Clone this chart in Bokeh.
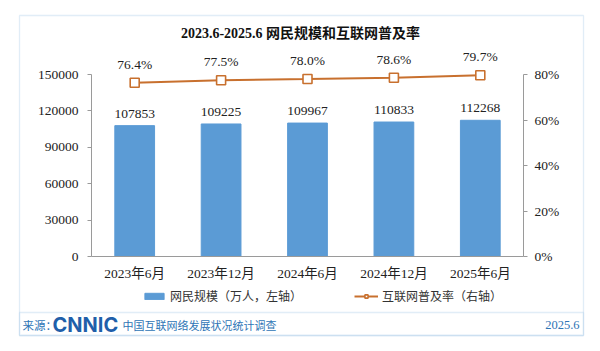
import numpy as np
from bokeh.plotting import figure
from bokeh.models import (Range1d, LinearAxis, FixedTicker, PrintfTickFormatter,
                          BasicTickFormatter, Label, BoxAnnotation, Legend,
                          LegendItem, ColumnDataSource)
from bokeh.core.properties import value
from bokeh.embed import file_html
from bokeh.resources import INLINE

categories = ["2023年6月", "2023年12月", "2024年6月", "2024年12月", "2025年6月"]
users = [107853, 109225, 109967, 110833, 112268]
rate = [76.4, 77.5, 78.0, 78.6, 79.7]
left_ticks = [0, 30000, 60000, 90000, 120000, 150000]
right_ticks = [0, 20, 40, 60, 80]

title_text = "2023.6-2025.6 网民规模和互联网普及率"
legend_bar = "网民规模（万人，左轴）"
legend_line = "互联网普及率（右轴）"
source_label = "来源："
logo_text = "CNNIC"
survey_text = "中国互联网络发展状况统计调查"
date_text = "2025.6"

SERIF = "'Liberation Serif', 'Times New Roman', 'Noto Sans CJK SC', serif"
CJK = "'Noto Sans CJK SC', sans-serif"
BLUE = "#5B9BD5"
ORANGE = "#C8702E"
AXIS = "#9A9A9A"
FOOT = "#2E75B6"
EDGE = "#9DC3E6"
TXT = "#222222"

W, H = 600, 351
# plot area in canvas pixels (top-left origin)
PL, PR, P0, PTOP = 91, 523, 256, 74   # left, right, y of zero, y of top tick

n = len(categories)
xpos = np.arange(n) + 0.5
x_px = (PR - PL) / n
y_px = (P0 - PTOP) / left_ticks[-1]
r_px = (P0 - PTOP) / right_ticks[-1]

src = ColumnDataSource(dict(
    x=xpos, users=users, rate=rate,
    ulab=[str(v) for v in users],
    rlab=[f"{v:.1f}%" for v in rate],
))

p = figure(width=W, height=H,
           x_range=Range1d(-PL / x_px, n + (W - PR) / x_px),
           y_range=Range1d(-(H - P0) / y_px, P0 / y_px),
           x_axis_location=None, y_axis_location=None,
           output_backend="svg", toolbar_location=None, min_border=0)
p.extra_y_ranges = {"pct": Range1d(-(H - P0) / r_px, P0 / r_px)}
p.outline_line_color = None
p.xgrid.visible = False
p.ygrid.visible = False
p.background_fill_color = "white"
p.border_fill_color = "white"

bars = p.vbar(x="x", top="users", width=0.46, source=src, color=BLUE)
line = p.line(x="x", y="rate", source=src, y_range_name="pct",
              line_color=ORANGE, line_width=2)
marks = p.scatter(x="x", y="rate", source=src, y_range_name="pct",
                  marker="square", size=9, line_color=ORANGE, line_width=1.6,
                  fill_color="white")

p.text(x="x", y="users", text="ulab", source=src, text_align="center",
       text_baseline="bottom", y_offset=-8, text_font=value(SERIF),
       text_font_size="13.5px", text_color=TXT)
p.text(x="x", y="rate", text="rlab", source=src, y_range_name="pct",
       text_align="center", text_baseline="bottom", y_offset=-11,
       text_font=value(SERIF), text_font_size="13.5px", text_color=TXT)


def style_axis(ax, standoff):
    ax.axis_line_color = AXIS
    ax.major_tick_line_color = AXIS
    ax.major_tick_out = 4
    ax.major_tick_in = 0
    ax.minor_tick_line_color = None
    ax.major_label_text_font = SERIF
    ax.major_label_text_font_size = "13.5px"
    ax.major_label_text_color = TXT
    ax.major_label_standoff = standoff


ya = LinearAxis(ticker=FixedTicker(ticks=left_ticks),
                formatter=BasicTickFormatter(use_scientific=False),
                bounds=(left_ticks[0], left_ticks[-1]), fixed_location=0)
style_axis(ya, 9)
p.add_layout(ya, "left")

ra = LinearAxis(y_range_name="pct", ticker=FixedTicker(ticks=right_ticks),
                formatter=PrintfTickFormatter(format="%d%%"),
                bounds=(right_ticks[0], right_ticks[-1]), fixed_location=n)
style_axis(ra, 7)
p.add_layout(ra, "right")

xa = LinearAxis(ticker=FixedTicker(ticks=list(xpos)),
                major_label_overrides={float(v): c for v, c in zip(xpos, categories)},
                bounds=(0, n), fixed_location=0)
style_axis(xa, 5)
xa.major_tick_line_color = None
p.add_layout(xa, "below")


def lab(x, y, text, **kw):
    p.add_layout(Label(x=x, y=H - y, x_units="screen", y_units="screen",
                       text=text, text_baseline="middle", **kw))


lab(300, 33, title_text, text_align="center", text_font=SERIF,
    text_font_size="14px", text_font_style="bold", text_color="#111111")

legend = Legend(items=[LegendItem(label=legend_bar, renderers=[bars]),
                       LegendItem(label=legend_line, renderers=[line, marks])],
                location=(142, H - 304), orientation="horizontal",
                glyph_width=24, glyph_height=8, label_standoff=4, spacing=52,
                padding=0, margin=0, border_line_color=None,
                background_fill_alpha=0, label_text_font=CJK,
                label_text_font_size="12px", label_text_color="#333333")
p.add_layout(legend, "center")

for top in (15, 312):
    p.add_layout(BoxAnnotation(left=19, right=583, top=H - top, bottom=H - 335,
                               left_units="screen", right_units="screen",
                               top_units="screen", bottom_units="screen",
                               fill_color=None, line_color=EDGE, line_width=1.3))

lab(22, 324, source_label, text_font=CJK, text_font_size="11.5px", text_color=FOOT)
lab(52, 324, logo_text, text_font="Inter", text_font_size="20px",
    text_font_style="bold", text_color="#1F5FAA")
lab(122, 324, survey_text, text_font=CJK, text_font_size="11px", text_color=FOOT)
lab(579, 324, date_text, text_align="right", text_font=SERIF,
    text_font_size="12.5px", text_color=FOOT)

open("out.html", "w").write(file_html(p, INLINE))
